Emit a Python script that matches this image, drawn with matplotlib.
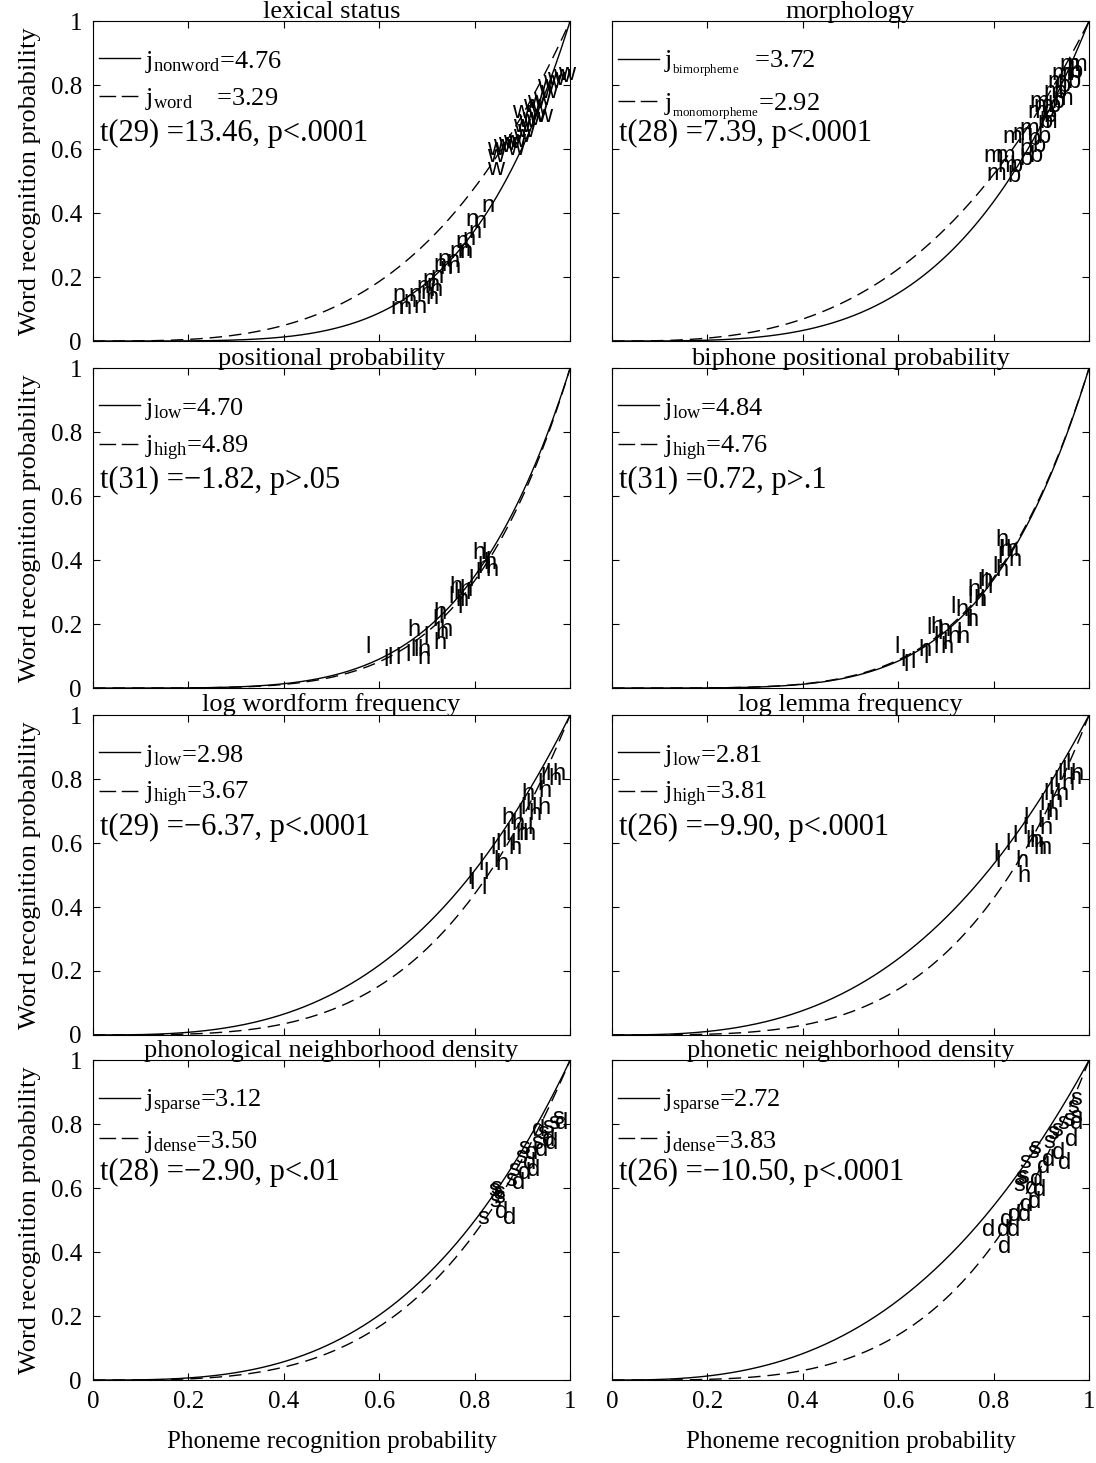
import numpy as np
import matplotlib.pyplot as plt
from matplotlib.lines import Line2D

plt.rcParams['font.family'] = ['Liberation Serif', 'DejaVu Serif']
plt.rcParams['mathtext.fontset'] = 'custom'
plt.rcParams['mathtext.rm'] = 'Liberation Serif'
plt.rcParams['mathtext.it'] = 'Liberation Serif:italic'

# panel settings
titles = ['lexical status', 'morphology', 'positional probability',
          'biphone positional probability', 'log wordform frequency',
          'log lemma frequency', 'phonological neighborhood density',
          'phonetic neighborhood density']
j_solid = [4.76, 3.72, 4.70, 4.84, 2.98, 2.81, 3.12, 2.72]
j_dashed = [3.29, 2.92, 4.89, 4.76, 3.67, 3.81, 3.50, 3.83]
solid_names = ['nonword', 'bimorpheme', 'low', 'low', 'low', 'low', 'sparse', 'sparse']
dashed_names = ['word', 'monomorpheme', 'high', 'high', 'high', 'high', 'dense', 'dense']
solid_pad = ['', r'\;\;\;', '', '', '', '', '', '']
dashed_pad = [r'\quad\;', '', '', '', '', '', '', '']
small_sub = [False, True, False, False, False, False, False, False]
stats = ['t(29) =13.46, p<.0001', 't(28) =7.39, p<.0001',
         't(31) =\u22121.82, p>.05', 't(31) =0.72, p>.1',
         't(29) =\u22126.37, p<.0001', 't(26) =\u22129.90, p<.0001',
         't(28) =\u22122.90, p<.01', 't(26) =\u221210.50, p<.0001']
letters = [('n', 'w'), ('m', 'b'), ('l', 'h'), ('l', 'h'),
           ('l', 'h'), ('l', 'h'), ('s', 'd'), ('s', 'd')]

# item points (phoneme prob, word prob)
lex_n_x = [0.628, 0.623, 0.640, 0.661, 0.671, 0.686, 0.696, 0.690, 0.707, 0.713, 0.727,
           0.744, 0.748, 0.763, 0.759, 0.769, 0.786, 0.780, 0.797, 0.815, 0.679, 0.723,
           0.700, 0.740, 0.650, 0.775, 0.705]
lex_n_y = [0.145, 0.104, 0.104, 0.145, 0.107, 0.151, 0.135, 0.192, 0.201, 0.239, 0.230,
           0.233, 0.277, 0.286, 0.311, 0.280, 0.340, 0.380, 0.371, 0.421, 0.170, 0.255,
           0.175, 0.250, 0.125, 0.320, 0.160]
lex_w_x = [0.826, 0.826, 0.826, 0.839, 0.849, 0.860, 0.870, 0.881, 0.881, 0.879, 0.891,
           0.899, 0.901, 0.910, 0.916, 0.922, 0.927, 0.931, 0.937, 0.943, 0.952, 0.964,
           0.975, 0.889, 0.868, 0.912]
lex_w_y = [0.538, 0.579, 0.601, 0.610, 0.616, 0.623, 0.626, 0.642, 0.673, 0.717, 0.689,
           0.695, 0.736, 0.748, 0.726, 0.758, 0.704, 0.799, 0.780, 0.811, 0.821, 0.830,
           0.836, 0.657, 0.601, 0.704]

mor_m_x = [0.786, 0.778, 0.803, 0.818, 0.839, 0.870, 0.876, 0.904, 0.912, 0.922, 0.939,
           0.943, 0.891, 0.855, 0.809, 0.883, 0.925, 0.955]
mor_m_y = [0.522, 0.579, 0.579, 0.638, 0.648, 0.717, 0.748, 0.780, 0.811, 0.836, 0.862,
           0.836, 0.686, 0.664, 0.547, 0.736, 0.758, 0.862]
mor_b_x = [0.828, 0.834, 0.855, 0.876, 0.855, 0.881, 0.870, 0.891, 0.897, 0.901, 0.912,
           0.922, 0.925, 0.933, 0.954, 0.960, 0.904]
mor_b_y = [0.516, 0.547, 0.569, 0.579, 0.601, 0.610, 0.632, 0.638, 0.686, 0.720, 0.736,
           0.748, 0.780, 0.799, 0.811, 0.843, 0.704]

pos_l_x = [0.570, 0.608, 0.618, 0.633, 0.654, 0.665, 0.671, 0.692, 0.711, 0.723, 0.744,
           0.755, 0.763, 0.769, 0.780, 0.786, 0.801, 0.815, 0.822]
pos_l_y = [0.128, 0.088, 0.094, 0.094, 0.103, 0.119, 0.119, 0.159, 0.213, 0.222, 0.284,
           0.297, 0.253, 0.275, 0.297, 0.338, 0.359, 0.422, 0.394]
pos_h_x = [0.658, 0.679, 0.681, 0.713, 0.717, 0.713, 0.748, 0.759, 0.795, 0.805, 0.818,
           0.822, 0.727, 0.769]
pos_h_y = [0.181, 0.119, 0.094, 0.234, 0.172, 0.141, 0.316, 0.275, 0.422, 0.378, 0.391,
           0.369, 0.181, 0.306]

bip_l_x = [0.593, 0.604, 0.610, 0.625, 0.652, 0.673, 0.660, 0.673, 0.683, 0.692, 0.709,
           0.723, 0.744, 0.746, 0.767, 0.771, 0.778, 0.788, 0.797, 0.807, 0.809]
bip_l_y = [0.128, 0.088, 0.072, 0.081, 0.097, 0.128, 0.188, 0.159, 0.172, 0.141, 0.253,
           0.172, 0.284, 0.213, 0.328, 0.275, 0.328, 0.316, 0.378, 0.409, 0.431]
bip_h_x = [0.642, 0.667, 0.683, 0.688, 0.704, 0.719, 0.723, 0.740, 0.744, 0.757, 0.771,
           0.803, 0.813, 0.824, 0.830, 0.803]
bip_h_y = [0.119, 0.191, 0.181, 0.128, 0.159, 0.244, 0.159, 0.213, 0.306, 0.275, 0.338,
           0.463, 0.431, 0.431, 0.400, 0.369]

wf_l_x = [0.784, 0.790, 0.807, 0.815, 0.818, 0.832, 0.839, 0.843, 0.857, 0.864, 0.874,
          0.889, 0.895, 0.906, 0.910, 0.931, 0.937, 0.948, 0.891, 0.920]
wf_l_y = [0.492, 0.474, 0.536, 0.461, 0.505, 0.586, 0.545, 0.598, 0.607, 0.629, 0.598,
          0.692, 0.710, 0.723, 0.648, 0.785, 0.804, 0.816, 0.629, 0.710]
wf_h_x = [0.843, 0.857, 0.885, 0.901, 0.912, 0.899, 0.931, 0.933, 0.954, 0.962, 0.870,
          0.878]
wf_h_y = [0.536, 0.679, 0.629, 0.629, 0.692, 0.754, 0.710, 0.763, 0.800, 0.816, 0.586,
          0.660]

lem_l_x = [0.799, 0.803, 0.824, 0.839, 0.860, 0.862, 0.876, 0.897, 0.904, 0.914, 0.925,
           0.933, 0.943, 0.950, 0.891, 0.912]
lem_l_y = [0.567, 0.545, 0.598, 0.623, 0.648, 0.679, 0.623, 0.723, 0.754, 0.773, 0.794,
           0.816, 0.826, 0.847, 0.670, 0.701]
lem_h_x = [0.845, 0.849, 0.876, 0.883, 0.893, 0.897, 0.908, 0.918, 0.929, 0.943, 0.956,
           0.960, 0.866]
lem_h_y = [0.545, 0.498, 0.607, 0.586, 0.586, 0.648, 0.692, 0.732, 0.754, 0.785, 0.804,
           0.816, 0.607]

pho_s_x = [0.805, 0.828, 0.839, 0.830, 0.832, 0.839, 0.870, 0.885, 0.891, 0.920, 0.931,
           0.941, 0.954, 0.964, 0.864]
pho_s_y = [0.506, 0.594, 0.572, 0.560, 0.600, 0.584, 0.656, 0.697, 0.725, 0.741, 0.772,
           0.791, 0.803, 0.819, 0.625]
pho_d_x = [0.860, 0.843, 0.878, 0.901, 0.910, 0.927, 0.948, 0.969, 0.941, 0.906, 0.891,
           0.920]
pho_d_y = [0.506, 0.525, 0.616, 0.678, 0.656, 0.719, 0.741, 0.803, 0.750, 0.709, 0.647,
           0.781]

pht_s_x = [0.841, 0.845, 0.855, 0.870, 0.876, 0.904, 0.912, 0.922, 0.933, 0.946, 0.954,
           0.960, 0.849, 0.960]
pht_s_y = [0.609, 0.631, 0.681, 0.712, 0.725, 0.744, 0.772, 0.781, 0.803, 0.812, 0.853,
           0.822, 0.634, 0.880]
pht_d_x = [0.776, 0.807, 0.828, 0.809, 0.813, 0.830, 0.851, 0.855, 0.872, 0.866, 0.883,
           0.891, 0.901, 0.922, 0.935, 0.950, 0.960, 0.876]
pht_d_y = [0.469, 0.469, 0.469, 0.416, 0.500, 0.516, 0.516, 0.547, 0.556, 0.600, 0.594,
           0.666, 0.688, 0.709, 0.678, 0.750, 0.803, 0.625]

points = [((lex_n_x, lex_n_y), (lex_w_x, lex_w_y)),
          ((mor_m_x, mor_m_y), (mor_b_x, mor_b_y)),
          ((pos_l_x, pos_l_y), (pos_h_x, pos_h_y)),
          ((bip_l_x, bip_l_y), (bip_h_x, bip_h_y)),
          ((wf_l_x, wf_l_y), (wf_h_x, wf_h_y)),
          ((lem_l_x, lem_l_y), (lem_h_x, lem_h_y)),
          ((pho_s_x, pho_s_y), (pho_d_x, pho_d_y)),
          ((pht_s_x, pht_s_y), (pht_d_x, pht_d_y))]

ticks = [0, 0.2, 0.4, 0.6, 0.8, 1]
tick_labels = ['0', '0.2', '0.4', '0.6', '0.8', '1']


def jlabel(name, pad, val, small):
    sub = r'_{\mathrm{%s}}' % name
    if small:
        sub = '_{%s}' % sub
    return r'$\mathrm{j}%s%s$=%.2f' % (sub, pad, val)


fig = plt.figure(figsize=(10.96, 14.63), dpi=100)
col_left = [0.0849, 0.5584]
row_bottom = [0.7669, 0.5297, 0.2926, 0.0567]
ax_w, ax_h = 0.4352, 0.2185

xs = np.linspace(0, 1, 400)
for i in range(8):
    r, c = divmod(i, 2)
    ax = fig.add_axes([col_left[c], row_bottom[r], ax_w, ax_h])
    ax.plot(xs, xs ** j_solid[i], color='black', lw=1.0)
    ax.plot(xs, xs ** j_dashed[i], color='black', lw=1.0, dashes=(9, 5))
    for (px, py), let in zip(points[i], letters[i]):
        for x, y in zip(px, py):
            ax.text(x, y, let, ha='left', va='center', fontsize=17,
                    family='Liberation Sans', color='black')
    h1 = Line2D([], [], color='black', lw=1.0)
    h2 = Line2D([], [], color='black', lw=1.0, dashes=(12, 4))
    lab1 = jlabel(solid_names[i], solid_pad[i], j_solid[i], small_sub[i])
    lab2 = jlabel(dashed_names[i], dashed_pad[i], j_dashed[i], small_sub[i])
    ax.legend([h1, h2], [lab1, lab2], loc='upper left', frameon=False,
              bbox_to_anchor=(-0.015, 0.956),
              fontsize=19, handlelength=1.55, handletextpad=0.2,
              labelspacing=0.45, borderaxespad=0.2, borderpad=0.3)
    ax.text(0.015, 0.648, stats[i], transform=ax.transAxes, fontsize=22,
            ha='left', va='center')
    ax.set_xlim(0, 1)
    ax.set_ylim(0, 1)
    ax.set_xticks(ticks)
    ax.set_yticks(ticks)
    ax.tick_params(direction='in', top=True, right=True, length=5, labelsize=18, pad=8)
    if r == 3:
        ax.set_xticklabels(tick_labels)
        ax.set_xlabel('Phoneme recognition probability', fontsize=18, labelpad=13)
    else:
        ax.set_xticklabels([])
    if c == 0:
        ax.set_yticklabels(tick_labels)
        ax.set_ylabel('Word recognition probability', fontsize=19, labelpad=7)
    else:
        ax.set_yticklabels([])
    ax.text(0.5, 1.012, titles[i], transform=ax.transAxes, fontsize=19,
            ha='center', va='baseline')

fig.savefig('out.png', dpi=100)
